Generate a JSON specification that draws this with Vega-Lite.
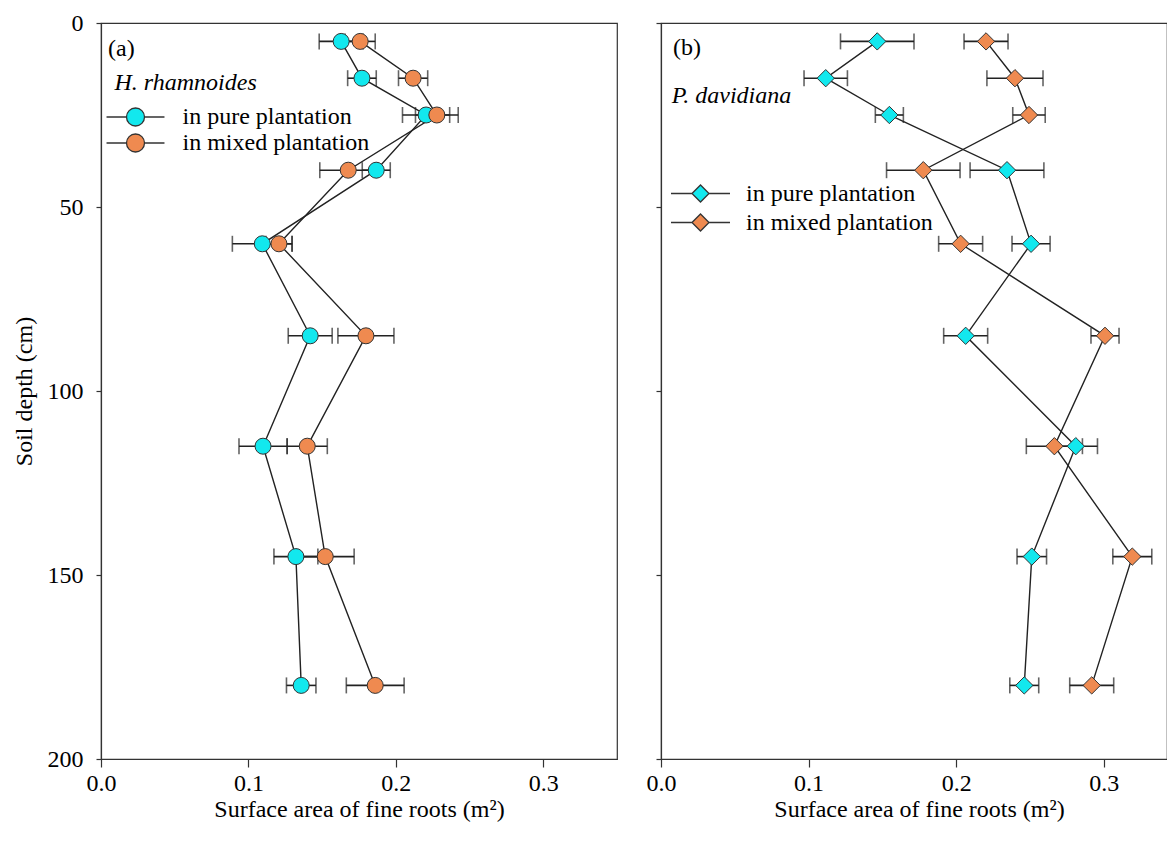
{
  "$schema": "https://vega.github.io/schema/vega-lite/v6.json",
  "padding": {"left": 11, "top": 10, "right": 0, "bottom": 0},
  "background": "white",
  "datasets": {
    "a": [
      {"depth": 5, "series": "in pure plantation", "x": 0.1629, "err": 0.0149},
      {"depth": 15, "series": "in pure plantation", "x": 0.177, "err": 0.0097},
      {"depth": 25, "series": "in pure plantation", "x": 0.2205, "err": 0.016},
      {"depth": 40, "series": "in pure plantation", "x": 0.1867, "err": 0.0095},
      {"depth": 60, "series": "in pure plantation", "x": 0.1094, "err": 0.0203},
      {"depth": 85, "series": "in pure plantation", "x": 0.1419, "err": 0.0149},
      {"depth": 115, "series": "in pure plantation", "x": 0.1099, "err": 0.0163},
      {"depth": 145, "series": "in pure plantation", "x": 0.1322, "err": 0.0149},
      {"depth": 180, "series": "in pure plantation", "x": 0.1358, "err": 0.01},
      {"depth": 5, "series": "in mixed plantation", "x": 0.1758, "err": 0.0102},
      {"depth": 15, "series": "in mixed plantation", "x": 0.2117, "err": 0.0099},
      {"depth": 25, "series": "in mixed plantation", "x": 0.2278, "err": 0.0145},
      {"depth": 40, "series": "in mixed plantation", "x": 0.1677, "err": 0.0193},
      {"depth": 60, "series": "in mixed plantation", "x": 0.1207, "err": 0.0088},
      {"depth": 85, "series": "in mixed plantation", "x": 0.1797, "err": 0.019},
      {"depth": 115, "series": "in mixed plantation", "x": 0.1399, "err": 0.0136},
      {"depth": 145, "series": "in mixed plantation", "x": 0.1521, "err": 0.0196},
      {"depth": 180, "series": "in mixed plantation", "x": 0.186, "err": 0.0196}
    ],
    "b": [
      {"depth": 5, "series": "in pure plantation", "x": 0.1465, "err": 0.0249},
      {"depth": 15, "series": "in pure plantation", "x": 0.1116, "err": 0.0147},
      {"depth": 25, "series": "in pure plantation", "x": 0.1547, "err": 0.0095},
      {"depth": 40, "series": "in pure plantation", "x": 0.2344, "err": 0.025},
      {"depth": 60, "series": "in pure plantation", "x": 0.2507, "err": 0.0129},
      {"depth": 85, "series": "in pure plantation", "x": 0.2064, "err": 0.0149},
      {"depth": 115, "series": "in pure plantation", "x": 0.281, "err": 0.0147},
      {"depth": 145, "series": "in pure plantation", "x": 0.2512, "err": 0.01},
      {"depth": 180, "series": "in pure plantation", "x": 0.2461, "err": 0.0098},
      {"depth": 5, "series": "in mixed plantation", "x": 0.2202, "err": 0.0149},
      {"depth": 15, "series": "in mixed plantation", "x": 0.2398, "err": 0.019},
      {"depth": 25, "series": "in mixed plantation", "x": 0.2493, "err": 0.011},
      {"depth": 40, "series": "in mixed plantation", "x": 0.1777, "err": 0.0249},
      {"depth": 60, "series": "in mixed plantation", "x": 0.203, "err": 0.0149},
      {"depth": 85, "series": "in mixed plantation", "x": 0.3008, "err": 0.0095},
      {"depth": 115, "series": "in mixed plantation", "x": 0.2665, "err": 0.019},
      {"depth": 145, "series": "in mixed plantation", "x": 0.3193, "err": 0.0132},
      {"depth": 180, "series": "in mixed plantation", "x": 0.2918, "err": 0.0149}
    ]
  },
  "spacing": 27,
  "resolve": {"scale": {"color": "independent"}, "legend": {"color": "independent"}},
  "hconcat": [
    {
      "width": 516,
      "height": 736,
      "data": {"name": "a"},
      "title": {"text": "(a)", "anchor": "start", "frame": "group", "orient": "top", "offset": -50, "dx": 7},
      "encoding": {
        "x": {"field": "x", "type": "quantitative", "title": "Surface area of fine roots (m²)",
              "scale": {"domain": [0, 0.35], "nice": false},
              "axis": {"values": [0, 0.1, 0.2, 0.3], "format": ".1f"}},
        "y": {"field": "depth", "type": "quantitative", "title": "Soil depth (cm)",
              "scale": {"domain": [0, 200], "reverse": true, "nice": false},
              "axis": {"values": [0, 50, 100, 150, 200], "labelPadding": 13, "titlePadding": 11}}
      },
      "layer": [
        {"mark": {"type": "errorbar", "ticks": {"size": 16, "thickness": 1.6, "color": "#222"}, "thickness": 1.6, "color": "#222"},
         "encoding": {"xError": {"field": "err"}}},
        {"mark": {"type": "line", "color": "#222", "strokeWidth": 1.4},
         "encoding": {"detail": {"field": "series"}, "order": {"field": "depth"}}},
        {"mark": {"type": "point", "filled": true, "shape": "circle", "size": 256, "stroke": "#333", "strokeWidth": 1, "opacity": 1},
         "encoding": {
           "color": {"field": "series", "type": "nominal",
                     "scale": {"domain": ["in pure plantation", "in mixed plantation"], "range": ["#12E8EE", "#EF8A50"]},
                     "legend": {"orient": "none", "legendX": 13.5, "legendY": 48, "title": "H. rhamnoides",
                                "titleFontStyle": "italic", "titlePadding": 10, "rowPadding": 2,
                                "symbolType": "M-3.22,0L-1,0M1,0L3.22,0M1,0A1,1,0,1,1,-1,0A1,1,0,1,1,1,0Z",
                                "symbolSize": 324, "symbolOffset": 9, "labelOffset": 35}}
         }}
      ]
    },
    {
      "width": 506,
      "height": 736,
      "data": {"name": "b"},
      "title": {"text": "(b)", "anchor": "start", "frame": "group", "orient": "top", "offset": -38, "dx": 12},
      "encoding": {
        "x": {"field": "x", "type": "quantitative", "title": "Surface area of fine roots (m²)",
              "scale": {"domain": [0, 0.3428], "nice": false},
              "axis": {"values": [0, 0.1, 0.2, 0.3], "format": ".1f", "titleX": 258, "titleAlign": "center"}},
        "y": {"field": "depth", "type": "quantitative", "title": null,
              "scale": {"domain": [0, 200], "reverse": true, "nice": false},
              "axis": {"values": [0, 50, 100, 150, 200], "labels": false}}
      },
      "layer": [
        {"mark": {"type": "errorbar", "ticks": {"size": 16, "thickness": 1.6, "color": "#222"}, "thickness": 1.6, "color": "#222"},
         "encoding": {"xError": {"field": "err"}}},
        {"mark": {"type": "line", "color": "#222", "strokeWidth": 1.4},
         "encoding": {"detail": {"field": "series"}, "order": {"field": "depth"}}},
        {"mark": {"type": "point", "filled": true, "shape": "diamond", "size": 300, "stroke": "#333", "strokeWidth": 1, "opacity": 1},
         "encoding": {
           "color": {"field": "series", "type": "nominal",
                     "scale": {"domain": ["in pure plantation", "in mixed plantation"], "range": ["#12E8EE", "#EF8A50"]},
                     "legend": {"orient": "none", "legendX": 10.7, "legendY": 60.5, "title": "P. davidiana",
                                "titleFontStyle": "italic", "titlePadding": 74, "rowPadding": 5,
                                "symbolType": "M-3.47,0L-1,0M1,0L3.47,0M-1,0L0,-1L1,0L0,1Z",
                                "symbolSize": 289, "symbolOffset": 16.8, "labelOffset": 33.5}}
         }}
      ]
    }
  ],
  "config": {
    "font": "Liberation Serif",
    "view": {"stroke": "#333", "strokeWidth": 1.2},
    "axis": {"grid": false, "domainColor": "#333", "domainWidth": 1.2, "tickColor": "#333", "tickWidth": 1.2,
             "labelFontSize": 24, "titleFontSize": 24, "labelColor": "#000", "titleColor": "#000",
             "titleFontWeight": "normal", "labelFont": "Liberation Serif", "titleFont": "Liberation Serif", "labelFlush": false},
    "axisX": {"tickSize": 8, "labelPadding": 4, "titlePadding": 2},
    "axisY": {"tickSize": 5},
    "legend": {"labelFont": "Liberation Serif", "labelFontSize": 24, "labelColor": "#000",
               "titleFont": "Liberation Serif", "titleFontSize": 24, "titleFontWeight": "normal", "titleColor": "#000",
               "symbolStrokeColor": "#333", "symbolStrokeWidth": 1.3, "padding": 0, "labelLimit": 400, "titleLimit": 400},
    "title": {"font": "Liberation Serif", "fontSize": 24, "fontWeight": "normal", "color": "#000"}
  }
}
